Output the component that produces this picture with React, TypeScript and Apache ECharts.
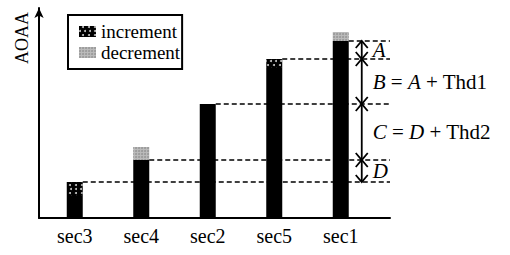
import React, { useEffect, useRef } from 'react';
import * as echarts from 'echarts';

const categories = ['sec3', 'sec4', 'sec2', 'sec5', 'sec1'];
const baseValues = [22, 58, 114, 150, 177];
const incrementValues = [14, 0, 0, 9, 0];
const decrementValues = [0, 13, 0, 0, 9];
const segmentLabels = ['{i|A}', '{i|B} = {i|A} + Thd1', '{i|C} = {i|D} + Thd2', '{i|D}'];
const yAxisTitle = 'AOAA';
const legendNames = ['increment', 'decrement'];

const SERIF = "'Liberation Serif', 'Times New Roman', serif";

export default function App() {
  const ref = useRef<HTMLDivElement>(null);
  useEffect(() => {
    if (!ref.current) return;
    document.body.style.margin = '0';
    const chart = echarts.init(ref.current, undefined, { renderer: 'svg' });

    const levels = baseValues.map((b, i) => b + incrementValues[i]);
    const sorted = [...levels].sort((a, b) => b - a);
    const segments = segmentLabels.map((_, k) => [categories.length - 1, sorted[k], sorted[k + 1], k]);
    const barW = 16;

    chart.setOption({
      animation: false,
      grid: [
        { left: 39, right: 120, top: 8, bottom: 37 },
        { left: 41.5, right: 136, top: 4, bottom: 37 },
      ],
      xAxis: [
        {
          gridIndex: 0, type: 'value', min: 0, max: 1,
          axisLine: { show: true, lineStyle: { color: '#000', width: 2 } },
          axisTick: { show: false }, axisLabel: { show: false }, splitLine: { show: false },
        },
        {
          gridIndex: 1, type: 'category', data: categories,
          axisLine: { show: false }, axisTick: { show: false }, splitLine: { show: false },
          axisLabel: { color: '#000', fontSize: 20, fontFamily: SERIF, margin: 8 },
        },
      ],
      yAxis: [
        {
          gridIndex: 0, type: 'value', min: 0, max: 1,
          axisLine: { show: true, symbol: ['none', 'arrow'], symbolSize: [7, 10], lineStyle: { color: '#000', width: 2 } },
          axisTick: { show: false }, axisLabel: { show: false }, splitLine: { show: false },
        },
        {
          gridIndex: 1, type: 'value', min: 0, max: 214, show: false,
        },
      ],
      legend: {
        data: legendNames,
        orient: 'vertical',
        left: 68, top: 15,
        icon: 'rect',
        itemWidth: 17, itemHeight: 11, itemGap: 2,
        padding: [7, 2, 7, 11],
        borderColor: '#000', borderWidth: 2,
        textStyle: { color: '#000', fontSize: 19, fontFamily: SERIF },
      },
      graphic: [
        {
          type: 'text', x: 22, y: 38, rotation: Math.PI / 2,
          style: { text: yAxisTitle, fontSize: 18, fontFamily: SERIF, fill: '#000', align: 'center', verticalAlign: 'middle' },
        },
      ],
      series: [
        {
          name: 'base', type: 'bar', xAxisIndex: 1, yAxisIndex: 1, stack: 'total', barWidth: barW,
          data: baseValues, itemStyle: { color: '#000' },
        },
        {
          name: 'increment', type: 'bar', xAxisIndex: 1, yAxisIndex: 1, stack: 'total', barWidth: barW,
          data: incrementValues,
          itemStyle: {
            color: '#000',
            decal: {
              symbol: 'circle', symbolSize: 1, color: '#c8c8c8', backgroundColor: '#000',
              dashArrayX: [[2, 3], [0, 2.5, 2, 0.5]], dashArrayY: [2, 1.5],
            },
          },
        },
        {
          name: 'decrement', type: 'bar', xAxisIndex: 1, yAxisIndex: 1, stack: 'total', barWidth: barW,
          data: decrementValues,
          itemStyle: {
            color: '#bbb',
            decal: {
              symbol: 'circle', symbolSize: 1, color: '#999', backgroundColor: '#f4f4f4',
              dashArrayX: [2, 1], dashArrayY: [2, 1],
            },
          },
        },
        {
          name: 'levels', type: 'custom', xAxisIndex: 1, yAxisIndex: 1,
          encode: { x: 0, y: 1 }, z: 5,
          data: levels.map((v, i) => [i, v]),
          renderItem: (params: any, api: any) => {
            const p = api.coord([api.value(0), api.value(1)]);
            const cs = params.coordSys;
            return {
              type: 'line',
              shape: { x1: p[0] + barW / 2, y1: p[1], x2: cs.x + cs.width + 16, y2: p[1] },
              style: { stroke: '#000', lineWidth: 1.4, lineDash: [5, 3] },
            };
          },
        },
        {
          name: 'arrows', type: 'custom', xAxisIndex: 1, yAxisIndex: 1,
          encode: { x: 0, y: [1, 2] }, z: 6,
          data: segments,
          renderItem: (params: any, api: any) => {
            const top = api.coord([api.value(0), api.value(1)]);
            const bot = api.coord([api.value(0), api.value(2)]);
            const x = top[0] + 21;
            const y1 = top[1];
            const y2 = bot[1];
            const hw = 6, hh = 7;
            const st = { stroke: '#000', lineWidth: 1.8, fill: 'none' };
            return {
              type: 'group',
              children: [
                { type: 'line', shape: { x1: x, y1, x2: x, y2 }, style: st },
                { type: 'polyline', shape: { points: [[x - hw, y1 + hh], [x, y1], [x + hw, y1 + hh]] }, style: st },
                { type: 'polyline', shape: { points: [[x - hw, y2 - hh], [x, y2], [x + hw, y2 - hh]] }, style: st },
                {
                  type: 'text',
                  style: {
                    text: segmentLabels[api.value(3)],
                    x: x + 11, y: (y1 + y2) / 2,
                    fontSize: 21, fontFamily: SERIF, fill: '#000',
                    verticalAlign: 'middle', align: 'left',
                    rich: { i: { fontStyle: 'italic', fontSize: 21, fontFamily: SERIF, fill: '#000' } },
                  },
                },
              ],
            };
          },
        },
      ],
    });
    return () => chart.dispose();
  }, []);
  return <div ref={ref} style={{ width: 510, height: 255 }} />;
}
